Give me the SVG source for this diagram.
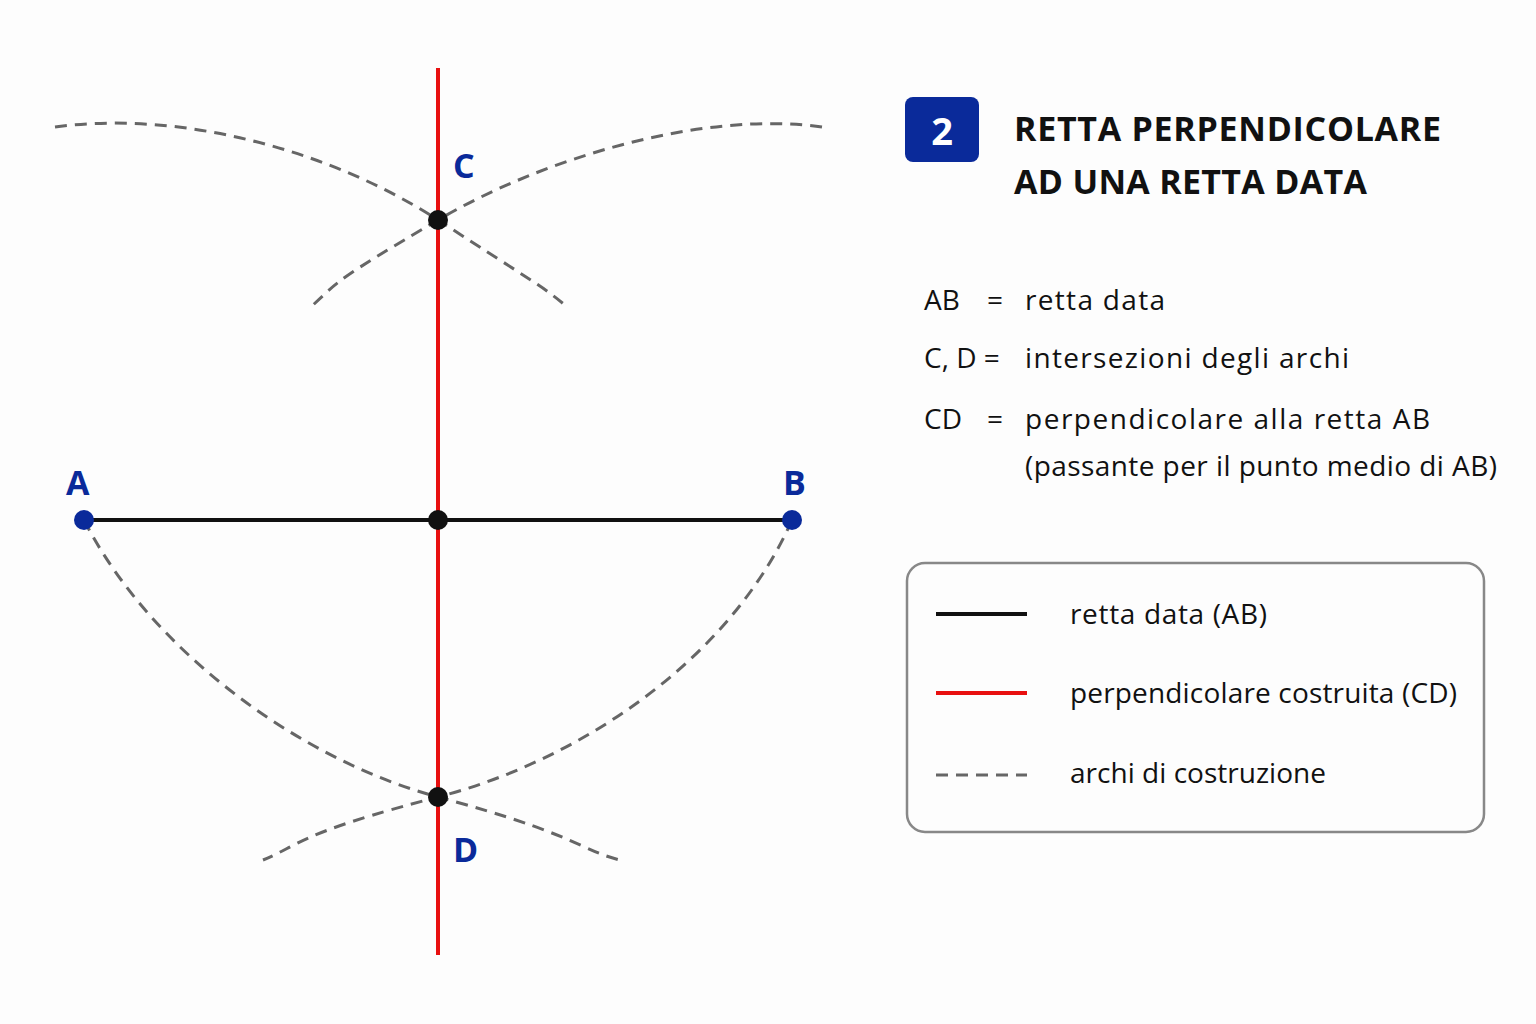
<svg xmlns="http://www.w3.org/2000/svg" width="1536" height="1024" viewBox="0 0 1536 1024">
<style>
.arc{fill:none;stroke:#666;stroke-width:3;stroke-dasharray:12 8}
.lbl{font-family:"Open Sans",sans-serif;font-weight:bold;font-size:34px;fill:#0a2a9a}
.t{font-family:"Open Sans",sans-serif;font-size:28px;fill:#111}
.h{font-family:"Open Sans",sans-serif;font-weight:bold;font-size:34px;fill:#111}
</style>
<rect width="1536" height="1024" fill="#fdfdfd"/>
<g id="connectors">
<path class="arc" d="M55,127 C180,110 330,150 438,220 S540,285 565,305"/>
<path class="arc" d="M822,127 C700,110 540,160 438,220 S340,280 313,305"/>
<path class="arc" d="M84,520 C150,650 300,760 438,797 S580,850 620,860"/>
<path class="arc" d="M792,520 C730,660 580,760 438,797 S300,845 263,860"/>
<line x1="84" y1="520" x2="792" y2="520" stroke="#111" stroke-width="4"/>
<line x1="438" y1="68" x2="438" y2="955" stroke="#e81010" stroke-width="4"/>
</g>
<g id="A"><circle cx="84" cy="520" r="10" fill="#0a2a9a"/><text class="lbl" x="66" y="495">A</text></g>
<g id="B"><circle cx="792" cy="520" r="10" fill="#0a2a9a"/><text class="lbl" x="783" y="495">B</text></g>
<g id="C"><circle cx="438" cy="220" r="10" fill="#111"/><text class="lbl" x="453" y="178">C</text></g>
<g id="D"><circle cx="438" cy="797" r="10" fill="#111"/><text class="lbl" x="453" y="862">D</text></g>
<g id="M"><circle cx="438" cy="520" r="10" fill="#111"/></g>
<g id="title">
<rect x="905" y="97" width="74" height="65" rx="8" fill="#0a2a9a"/>
<text x="942" y="145" text-anchor="middle" font-family="Open Sans,sans-serif" font-weight="bold" font-size="38" fill="#fff">2</text>
<text class="h" x="1014" y="141" textLength="427">RETTA PERPENDICOLARE</text>
<text class="h" x="1014" y="194" textLength="353">AD UNA RETTA DATA</text>
</g>
<g id="defs-text">
<text class="t" x="924" y="310">AB</text><text class="t" x="987" y="310">=</text><text class="t" x="1025" y="310" textLength="140">retta data</text>
<text class="t" x="924" y="368">C, D =</text><text class="t" x="1025" y="368" textLength="324">intersezioni degli archi</text>
<text class="t" x="924" y="429">CD</text><text class="t" x="987" y="429">=</text><text class="t" x="1025" y="429" textLength="405">perpendicolare alla retta AB</text>
<text class="t" x="1025" y="476" textLength="472">(passante per il punto medio di AB)</text>
</g>
<g id="legend">
<rect x="907" y="563" width="577" height="269" rx="18" fill="none" stroke="#888" stroke-width="2.5"/>
<line x1="936" y1="614" x2="1027" y2="614" stroke="#111" stroke-width="4"/>
<text class="t" x="1070" y="624" textLength="197">retta data (AB)</text>
<line x1="936" y1="693" x2="1027" y2="693" stroke="#e81010" stroke-width="4"/>
<text class="t" x="1070" y="703" textLength="387">perpendicolare costruita (CD)</text>
<line x1="936" y1="775" x2="1027" y2="775" class="arc"/>
<text class="t" x="1070" y="783" textLength="256">archi di costruzione</text>
</g>
</svg>
